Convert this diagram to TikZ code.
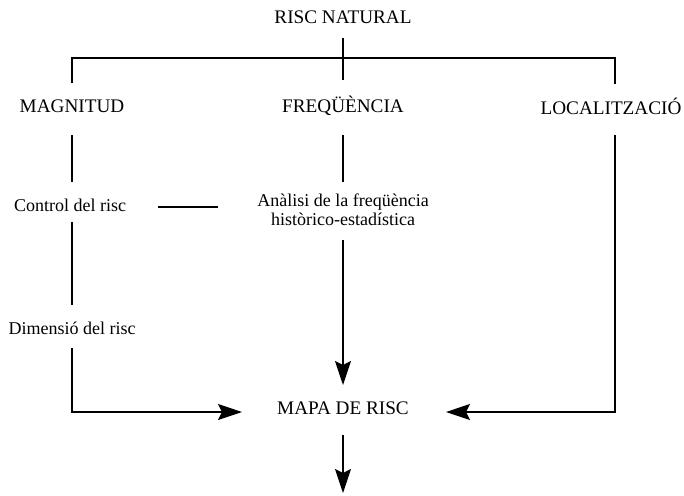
\documentclass[tikz,border=0pt]{standalone}
\usepackage{fontspec}
\setmainfont{Liberation Serif}
\usetikzlibrary{arrows.meta}

\begin{document}
\begin{tikzpicture}[x = 0.5pt, y = -0.5pt, line width = 0.8pt,
 caps/.style = {font = \fontsize{9.6}{11}\selectfont, inner sep = 0pt},
 txt/.style = {font = \fontsize{9}{9.6}\selectfont, inner sep = 0pt, align = center},
 fl/.style = {-{Stealth[length = 12pt, width = 8pt, inset = 2pt]}}]
 \useasboundingbox (0,0) rectangle (684,495);
 \node[caps] (risc) at (343,17) {RISC NATURAL};
 \node[caps] (magnitud) at (72,106) {MAGNITUD};
 \node[caps] (freq) at (343,106) {FREQÜÈNCIA};
 \node[caps] (local) at (611,106) {LOCALITZACIÓ};
 \node[txt] (control) at (70,205) {Control del risc};
 \node[txt] (analisi) at (343,210) {Anàlisi de la freqüència\\històrico-estadística};
 \node[txt] (dimensio) at (72,328) {Dimensió del risc};
 \node[caps] (mapa) at (343,408) {MAPA DE RISC};
 % encreuament de dalt
 \coordinate (C) at (343,58);
 \coordinate (L) at (72,58);
 \coordinate (R) at (615,58);
 \draw (343,38) -- (343,80);
 \draw (72,83) -- (L) -- (R) -- (615,84);
 % columna esquerra
 \draw (72,135) -- (72,182);
 \draw (158,207) -- (218,207);
 \draw (72,222) -- (72,305);
 \draw[fl] (72,348) coordinate (D) -- (72,412) -- (242,412) coordinate (Mw);
 % columna central
 \draw (343,135) -- (343,182);
 \draw[fl] (343,240) -- (343,385) coordinate (Mn);
 \draw[fl] (343,435) -- (343,493) coordinate (Ms);
 % columna dreta
 \draw[fl] (615,135) -- (615,412) -- (446,412) coordinate (Me);
\end{tikzpicture}
\end{document}
